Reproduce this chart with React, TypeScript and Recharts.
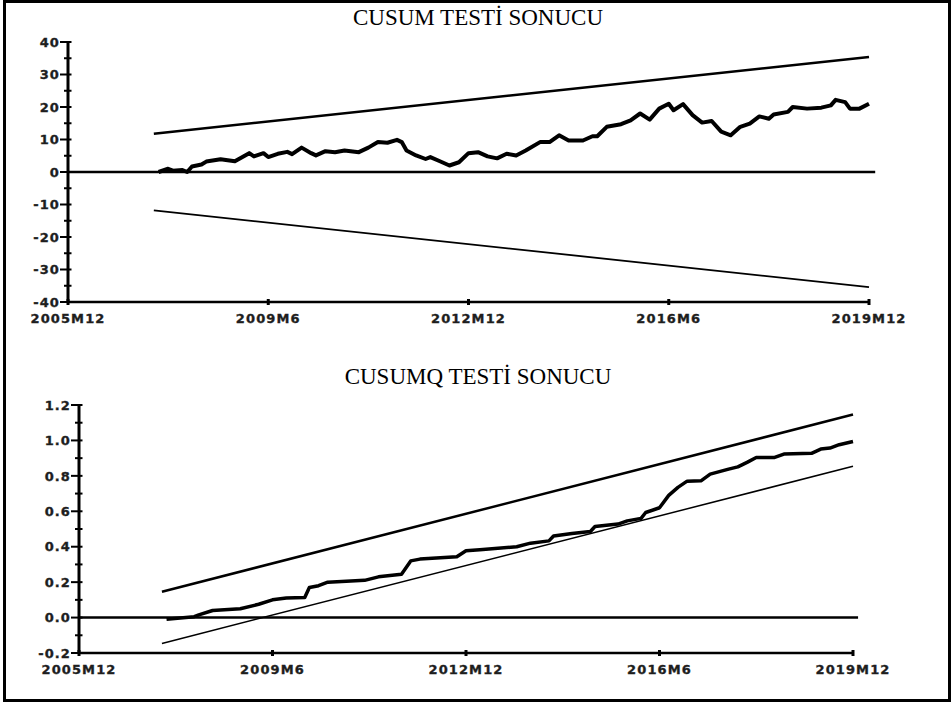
import React from "react";
import { LineChart, Line, XAxis, YAxis, ReferenceLine } from "recharts";

// month index counted from 2005M12
const xTickMonths = [0, 42, 84, 126, 168];
const xTickLabels = ["2005M12", "2009M6", "2012M12", "2016M6", "2019M12"];

const cusumMonths = [
  19, 21, 22, 24, 25, 26, 28, 29, 32, 35, 38, 39, 41, 42, 44, 46, 47, 49, 51, 52,
  54, 56, 58, 61, 63, 65, 67, 69, 70, 71, 73, 75, 76, 78, 80, 82, 84, 86, 88, 90,
  92, 94, 96, 99, 101, 103, 105, 108, 110, 111, 113, 116, 118, 120, 122, 124, 126, 127, 129, 131,
  133, 135, 137, 139, 141, 143, 145, 147, 148, 151, 152, 155, 158, 160, 161, 163, 164, 166, 168,
];
const cusumValues = [
  0, 1, 0.4, 0.6, 0, 1.7, 2.3, 3.2, 3.9, 3.3, 5.8, 4.8, 5.8, 4.6, 5.6, 6.2, 5.5, 7.5, 5.8, 5.1,
  6.4, 6.1, 6.6, 6.1, 7.5, 9.2, 9.0, 9.9, 9.2, 6.6, 5.1, 4.0, 4.6, 3.3, 2.0, 3.0, 5.8, 6.1, 4.8, 4.2,
  5.6, 5.1, 6.6, 9.2, 9.2, 11.3, 9.7, 9.7, 11, 11, 13.9, 14.7, 15.9, 18, 16.1, 19.5, 21, 19, 20.9, 17.5,
  15.2, 15.7, 12.4, 11.3, 13.9, 14.9, 17.1, 16.4, 17.7, 18.5, 20, 19.5, 19.8, 20.5, 22.2, 21.5, 19.5, 19.5, 21,
];
const cusumBandMonths = [18, 168];
const cusumUpper = [11.8, 35.4];
const cusumLower = [-11.8, -35.4];
const cusumYTicks = [-40, -35, -30, -25, -20, -15, -10, -5, 0, 5, 10, 15, 20, 25, 30, 35, 40];

const cusumqMonths = [
  19, 25, 26, 29, 35, 39, 42, 45, 49, 50, 52, 54, 62, 65, 70, 72, 74, 82, 84, 87,
  95, 98, 102, 103, 107, 111, 112, 117, 119, 122, 123, 126, 128, 130, 132, 135, 137, 141, 143, 145,
  147, 151, 153, 159, 161, 163, 165, 168,
];
const cusumqValues = [
  -0.01, 0.005, 0.015, 0.04, 0.05, 0.075, 0.1, 0.11, 0.113, 0.17, 0.18, 0.2, 0.21, 0.23, 0.245, 0.32, 0.33, 0.343, 0.377, 0.383,
  0.4, 0.42, 0.433, 0.46, 0.475, 0.486, 0.514, 0.528, 0.546, 0.56, 0.593, 0.62, 0.69, 0.735, 0.77, 0.772, 0.81, 0.838, 0.851, 0.876,
  0.904, 0.904, 0.923, 0.927, 0.951, 0.957, 0.976, 0.994,
];
const cusumqBandMonths = [18, 168];
const cusumqUpper = [0.146, 1.146];
const cusumqLower = [-0.146, 0.854];
const cusumqYTicks = [-0.2, -0.1, 0, 0.1, 0.2, 0.3, 0.4, 0.5, 0.6, 0.7, 0.8, 0.9, 1.0, 1.1, 1.2];

const rows = (ts: number[], vs: number[]) => ts.map((t, i) => ({ t, v: vs[i] }));

const tickFont: React.CSSProperties = {
  fontFamily: "DejaVu Sans",
  fontWeight: 700,
  fontSize: 13,
  letterSpacing: 1.1,
  fill: "#1e1e1e",
  stroke: "#1e1e1e",
  strokeWidth: 0.35,
};

function YTick(props: any) {
  const { x, y, payload, isMajor, fmt } = props;
  const major = isMajor(payload.value);
  return (
    <g>
      <line x1={x - (major ? 8 : 4)} x2={x + 3.5} y1={y} y2={y} stroke="#000" strokeWidth={2} />
      {major && (
        <text x={x - 8} y={y + 4.7} textAnchor="end" style={tickFont}>
          {fmt(payload.value)}
        </text>
      )}
    </g>
  );
}

function XTick(props: any) {
  const { x, y, payload, dy } = props;
  const label = xTickLabels[xTickMonths.indexOf(payload.value)];
  return (
    <g>
      <line x1={x} x2={x} y1={y - 3} y2={y + 3} stroke="#000" strokeWidth={3} />
      <text x={x} y={y + dy} textAnchor="middle" style={tickFont}>
        {label}
      </text>
    </g>
  );
}

const titleStyle: React.CSSProperties = {
  position: "absolute",
  left: 0,
  width: 956,
  textAlign: "center",
  fontFamily: "Liberation Serif",
  fontSize: 23,
  lineHeight: "23px",
  color: "#000",
};

export default function App() {
  return (
    <div style={{ position: "absolute", left: 0, top: 0, width: 951, height: 703, background: "#fff" }}>
      <div
        style={{
          position: "absolute",
          left: 3,
          top: 0,
          width: 948,
          height: 702,
          border: "3px solid #000",
          boxSizing: "border-box",
        }}
      />
      <div style={{ ...titleStyle, top: 6 }}>CUSUM TESTİ SONUCU</div>
      <div style={{ ...titleStyle, top: 365 }}>CUSUMQ TESTİ SONUCU</div>

      <div style={{ position: "absolute", left: 0, top: 0 }}>
        <LineChart width={951} height={340} margin={{ top: 42, right: 82, left: 28, bottom: 8 }}>
          <XAxis
            dataKey="t"
            type="number"
            domain={[0, 168]}
            ticks={xTickMonths}
            interval={0}
            height={30}
            tickSize={0}
            tickMargin={0}
            tickLine={false}
            axisLine={{ stroke: "#000", strokeWidth: 2.5 }}
            tick={(p: any) => <XTick {...p} dy={21} />}
          />
          <YAxis
            type="number"
            domain={[-40, 40]}
            ticks={cusumYTicks}
            interval={0}
            width={40}
            tickSize={0}
            tickMargin={0}
            tickLine={false}
            axisLine={{ stroke: "#000", strokeWidth: 3 }}
            tick={(p: any) => (
              <YTick {...p} isMajor={(v: number) => v % 10 === 0} fmt={(v: number) => String(v)} />
            )}
          />
          <ReferenceLine
            segment={[{ x: 0, y: 0 }, { x: 169.3, y: 0 }]}
            ifOverflow="visible"
            stroke="#000"
            strokeWidth={2.5}
          />
          <Line
            data={rows(cusumBandMonths, cusumUpper)}
            dataKey="v"
            stroke="#000"
            strokeWidth={2.5}
            dot={false}
            isAnimationActive={false}
          />
          <Line
            data={rows(cusumBandMonths, cusumLower)}
            dataKey="v"
            stroke="#000"
            strokeWidth={1.8}
            dot={false}
            isAnimationActive={false}
          />
          <Line
            data={rows(cusumMonths, cusumValues)}
            dataKey="v"
            stroke="#000"
            strokeWidth={4}
            strokeLinejoin="round"
            dot={false}
            isAnimationActive={false}
          />
        </LineChart>
      </div>

      <div style={{ position: "absolute", left: 0, top: 360 }}>
        <LineChart width={951} height={340} margin={{ top: 45, right: 98, left: 39, bottom: 17 }}>
          <XAxis
            dataKey="t"
            type="number"
            domain={[0, 168]}
            ticks={xTickMonths}
            interval={0}
            height={30}
            tickSize={0}
            tickMargin={0}
            tickLine={false}
            axisLine={{ stroke: "#000", strokeWidth: 2.5 }}
            tick={(p: any) => <XTick {...p} dy={21} />}
          />
          <YAxis
            type="number"
            domain={[-0.2, 1.2]}
            ticks={cusumqYTicks}
            interval={0}
            width={40}
            tickSize={0}
            tickMargin={0}
            tickLine={false}
            axisLine={{ stroke: "#000", strokeWidth: 3 }}
            tick={(p: any) => (
              <YTick
                {...p}
                isMajor={(v: number) => Math.round(v * 10) % 2 === 0}
                fmt={(v: number) => v.toFixed(1)}
              />
            )}
          />
          <ReferenceLine
            segment={[{ x: 0, y: 0 }, { x: 169.1, y: 0 }]}
            ifOverflow="visible"
            stroke="#000"
            strokeWidth={2.5}
          />
          <Line
            data={rows(cusumqBandMonths, cusumqUpper)}
            dataKey="v"
            stroke="#000"
            strokeWidth={2.5}
            dot={false}
            isAnimationActive={false}
          />
          <Line
            data={rows(cusumqBandMonths, cusumqLower)}
            dataKey="v"
            stroke="#000"
            strokeWidth={1.5}
            dot={false}
            isAnimationActive={false}
          />
          <Line
            data={rows(cusumqMonths, cusumqValues)}
            dataKey="v"
            stroke="#000"
            strokeWidth={3.5}
            strokeLinejoin="round"
            dot={false}
            isAnimationActive={false}
          />
        </LineChart>
      </div>
    </div>
  );
}
